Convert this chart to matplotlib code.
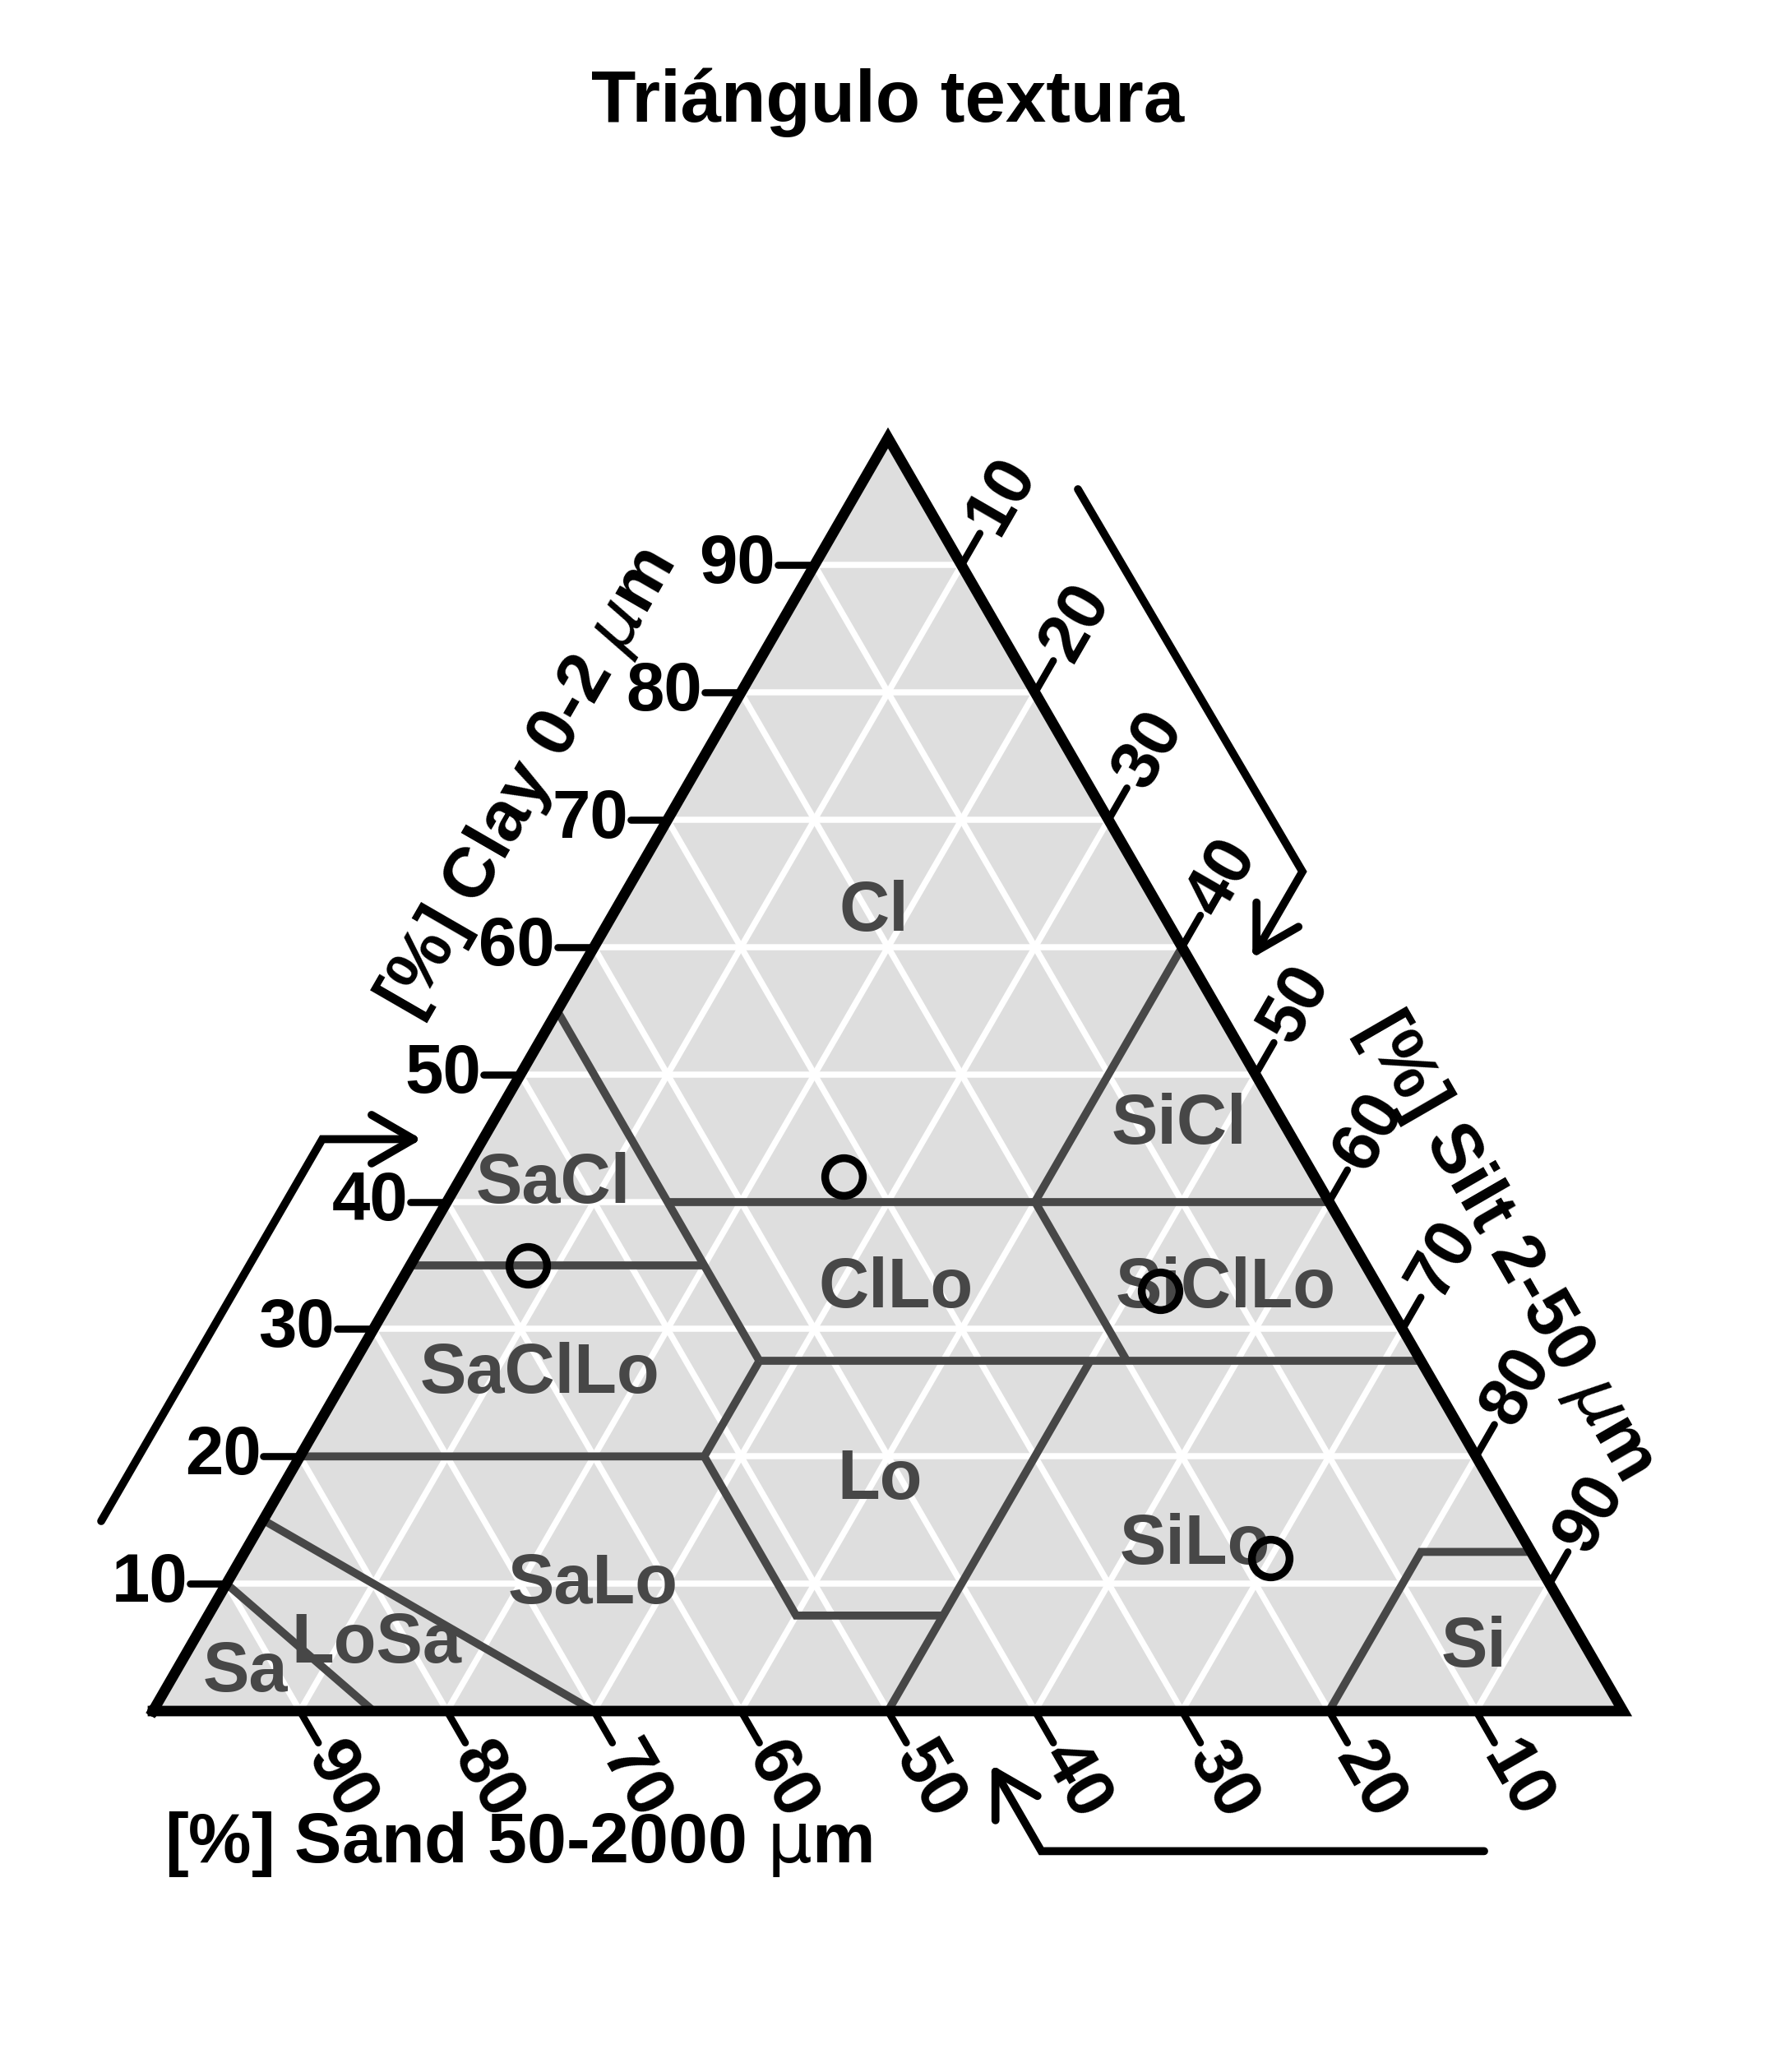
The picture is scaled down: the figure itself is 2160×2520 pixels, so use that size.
import numpy as np
import matplotlib
matplotlib.use("Agg")
import matplotlib.pyplot as plt

plt.rcParams['font.family'] = ['Liberation Sans', 'DejaVu Sans']
plt.rcParams['mathtext.fontset'] = 'dejavusans'

# ---------------- data ----------------
title = "Triángulo textura"
tick_values = [10, 20, 30, 40, 50, 60, 70, 80, 90]
tick_labels = ["10", "20", "30", "40", "50", "60", "70", "80", "90"]

clay_title = r"[%] Clay 0-2 $\mu$m"
silt_title = r"[%] Silt 2-50 $\mu$m"
sand_title = r"[%] Sand 50-2000 $\mathrm{\mu}$m"

# samples (percent)
sample_clay = [42, 35, 33, 12]
sample_silt = [26, 8, 52, 70]
sample_sand = [32, 57, 15, 18]

# USDA class boundaries: polylines given as clay / silt sequences (percent)
boundary_clay = [
    [55, 27.5],
    [40, 40],
    [60, 40, 27.5],
    [27.5, 27.5],
    [35, 35],
    [20, 20, 27.5],
    [20, 7.5, 7.5],
    [27.5, 0],
    [0, 12.5, 12.5],
    [15, 0],
    [10, 0],
]
boundary_silt = [
    [0, 27.5],
    [15, 60],
    [40, 40, 52.5],
    [27.5, 72.5],
    [0, 20],
    [0, 27.5, 27.5],
    [27.5, 40, 50],
    [50, 50],
    [80, 80, 87.5],
    [0, 30],
    [0, 15],
]

class_names = ['Cl', 'SiCl', 'SaCl', 'ClLo', 'SiClLo', 'SaClLo', 'Lo', 'SiLo',
               'SaLo', 'LoSa', 'Sa', 'Si']
class_label_clay = [62.7, 46.0, 41.3, 33.1, 33.1, 26.4, 18.1, 13.0, 9.9, 5.2, 3.0, 4.9]
class_label_silt = [17.7, 46.8, 6.6, 34.0, 56.4, 13.1, 40.4, 64.4, 25.0, 12.6, 4.8, 87.4]

# ---------------- style ----------------
BG = '#DEDEDE'
CLASS_COL = '#474747'
S3 = np.sqrt(3) / 2


def tern(clay, silt):
    clay = np.asarray(clay, dtype=float)
    silt = np.asarray(silt, dtype=float)
    return (silt + clay / 2.0) / 100.0, clay / 100.0 * S3


fig = plt.figure(figsize=(10.8, 12.6), dpi=200)
ax = fig.add_axes([0, 0, 1, 1])
ax.set_xlim(-0.10403, 1.10403)
ax.set_ylim(-0.24553, 1.16387)
ax.axis('off')

# triangle fill
tx, ty = tern([0, 0, 100, 0], [0, 100, 0, 0])
ax.fill(tx, ty, color=BG, zorder=1, lw=0)

# white grid
for k in tick_values:
    for c, s in (([k, k], [0, 100 - k]), ([0, 100 - k], [k, k]), ([0, 100 - k], [100 - k, 0])):
        gx, gy = tern(c, s)
        ax.plot(gx, gy, color='white', lw=2.7, zorder=2, solid_capstyle='butt')

# class boundaries
for bc, bs in zip(boundary_clay, boundary_silt):
    bx, by = tern(bc, bs)
    ax.plot(bx, by, color=CLASS_COL, lw=3.5, zorder=3, solid_joinstyle='miter',
            solid_capstyle='butt')

# class labels
for name, c, s in zip(class_names, class_label_clay, class_label_silt):
    lx, ly = tern(c, s)
    ax.text(lx, ly, name, color=CLASS_COL, fontsize=30.5, fontweight='bold',
            ha='center', va='center', zorder=4)

# border
ax.plot(tx, ty, color='black', lw=4.6, zorder=5, solid_joinstyle='miter')

# samples
px, py = tern(sample_clay, sample_silt)
ax.plot(px, py, linestyle='none', marker='o', ms=16.5, mfc='none', mec='black',
        mew=3.4, zorder=6)

# ticks and tick labels
L = 0.025
gap = 0.004
tk = dict(color='black', lw=3.1, zorder=5, solid_capstyle='round')
for v, lab in zip(tick_values, tick_labels):
    # clay (left edge)
    x0, y0 = tern(v, 0)
    ax.plot([x0, x0 - L], [y0, y0], **tk)
    ax.text(x0 - L - 0.0015, y0, lab, fontsize=30, fontweight='bold',
            ha='right', va='center')
    # silt (right edge)
    x0, y0 = tern(100 - v, v)
    d = np.array([0.5, S3])
    ax.plot([x0, x0 + L * d[0]], [y0, y0 + L * d[1]], **tk)
    ax.text(x0 + (L + gap) * d[0], y0 + (L + gap) * d[1], lab, fontsize=30,
            fontweight='bold', ha='left', va='center', rotation=60,
            rotation_mode='anchor')
    # sand (bottom edge)
    x0, y0 = tern(0, 100 - v)
    d = np.array([0.5, -S3])
    ax.plot([x0, x0 + L * d[0]], [y0, y0 + L * d[1]], **tk)
    ax.text(x0 + (L + gap) * d[0], y0 + (L + gap) * d[1], lab, fontsize=30,
            fontweight='bold', ha='left', va='center', rotation=-60,
            rotation_mode='anchor')

# axis titles
ax.text(0.2555, 0.6315, clay_title, fontsize=31, fontweight='bold', rotation=60,
        ha='center', va='center', rotation_mode='anchor')
ax.text(0.921, 0.3166, silt_title, fontsize=31, fontweight='bold', rotation=-60,
        ha='center', va='center', rotation_mode='anchor')
ax.text(0.008, -0.0906, sand_title, fontsize=31, fontweight='bold',
        ha='left', va='center')

# title
ax.text(0.5, 1.081, title, fontsize=32, fontweight='bold', ha='center',
        va='baseline')


# direction arrows
def arrow(xs, ys, hl=0.033):
    ax.plot(xs, ys, color='black', lw=3.5, zorder=5, solid_joinstyle='miter',
            solid_capstyle='round')
    tip = np.array([xs[-1], ys[-1]])
    prev = np.array([xs[-2], ys[-2]])
    back = (prev - tip) / np.linalg.norm(prev - tip)
    for a in (np.radians(30), -np.radians(30)):
        r = np.array([[np.cos(a), -np.sin(a)], [np.sin(a), np.cos(a)]])
        e = tip + hl * (r @ back)
        ax.plot([tip[0], e[0]], [tip[1], e[1]], color='black', lw=3.5, zorder=5,
                solid_capstyle='round')


arrow([-0.0352, 0.1152, 0.1773], [0.1292, 0.3890, 0.3890])
arrow([0.6292, 0.7819, 0.7506], [0.8311, 0.5710, 0.5170])
arrow([0.9055, 0.6043, 0.5731], [-0.0953, -0.0953, -0.0413])

fig.savefig('out.png', dpi=200, facecolor='white')
